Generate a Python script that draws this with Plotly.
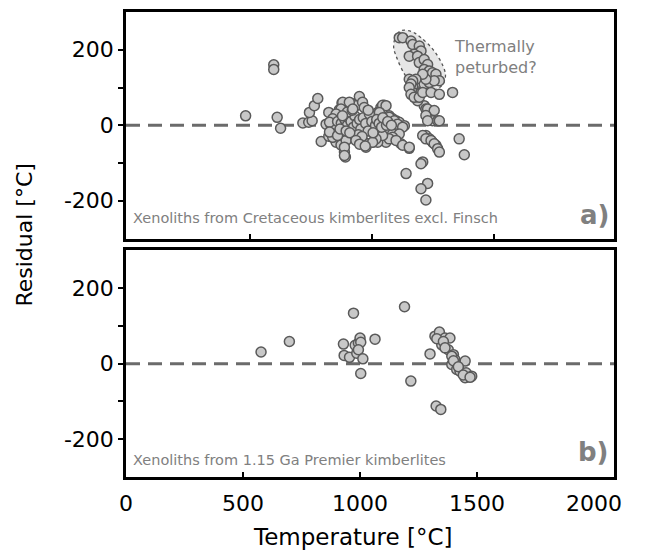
import plotly.graph_objects as go

# ---------------- data ----------------
# Panel a: xenoliths from Cretaceous kimberlites excl. Finsch
a_temp = [484, 599, 599, 613, 627,
          718, 742, 756, 745, 765, 779, 793, 824, 824, 813, 833, 847, 867, 878, 854, 874, 888, 892,
          949, 881, 874, 854, 840, 827, 915, 935, 962, 969, 1051, 1037, 1024, 1003, 1071, 1085, 1099,
          1112, 1133, 1010, 1031, 1051, 1071, 1085, 1092, 1119, 1153, 1058, 1024, 1003, 976, 969,
          908, 895, 888, 888, 840, 827, 860, 1208, 1214, 1221, 1235, 1248, 1269, 1221, 1235, 1248, 1262,
          1153, 1167, 1167, 1180, 1187, 1201, 1214, 1235,
          1112, 1126, 1160, 1167, 1194, 1201, 1173, 1153, 1187, 1194, 1214, 1228, 1214, 1235, 1248, 1262,
          1276, 1255, 1221, 1208, 1180, 1167, 1160, 1153, 1160, 1173, 1194, 1208, 1242, 1276, 1330,
          1228, 1255, 1221, 1228, 1276, 1208, 1221, 1242, 1255, 1269, 1276, 1357, 1378, 1201, 1140,
          1228, 1201, 1221, 1044, 1058, 1031, 1071, 1092, 1105, 1126, 1112, 1085, 1071, 1099, 1126,
          1153, 1044, 1017, 1003,
          860, 875, 890, 900, 905, 915, 925, 930, 940, 950, 955, 965, 975, 985, 990, 1000, 1015, 1020,
          1030, 1040, 1045, 1060, 1065, 1080, 900, 920, 945, 960, 985, 1005, 870, 880, 895, 910, 935,
          950, 973, 908, 922]
a_resid = [25, 160, 148, 21, -8,
           6, 8, 12, 34, 52, 71, -43, -29, 34, 3, 1, 3, 41, 59, -45, -52, -71, -84,
           76, 61, 43, 30, 17, 8, 58, 52, 61, 47, 53, 47, 34, 26, 25, 17, 12,
           8, -1, -5, -14, -10, -14, -23, -36, -49, -61, -45, -45, -45, -58, -45,
           -32, -40, -58, -80, -32, -18, -27, -97, 52, 43, 17, 12, 12, -27, -36, -45, -53,
           122, 104, 87, 74, 65, 87, 109, 113,
           232, 232, 223, 214, 210, 197, 188, 183, 183, 166, 174, 161, 148, 144, 139, 135,
           118, 118, 122, 135, 122, 118, 109, 100, 82, 74, 74, 87, 87, 82, 87,
           43, 39, 26, 12, 12, -27, -36, -40, -49, -62, -71, -36, -78, -102, -128,
           -154, -168, -198, 53, 52, 34, 21, 12, 3, -5, -23, -32, -36, -40, -53,
           -58, -27, -36, -45,
           10, 5, 15, 0, 20, 10, -5, 25, 5, 15, -10, 20, 5, -15, 30, 10, 0, 15,
           5, -5, 20, 0, 10, 0, 35, 40, -25, -30, 40, -20, -10, 25, -15, -20, -40,
           -50, -55, 61, 43]

# Panel b: xenoliths from 1.15 Ga Premier kimberlites
b_temp = [577, 698, 972, 929, 932, 955, 979, 993, 1000, 1003, 986, 993, 1012, 1064, 1003,
          1190, 1299, 1217, 1325, 1345,
          1320, 1339, 1363, 1384, 1349, 1377, 1399, 1405, 1392, 1413, 1427, 1449, 1453, 1477, 1449,
          1328, 1356, 1363, 1392, 1399, 1420, 1441, 1470]
b_resid = [31, 59, 134, 52, 22, 17, 49, 55, 68, 57, 28, 37, 13, 65, -26,
           151, 26, -46, -112, -121,
           73, 84, 68, 68, 50, 37, 24, 11, -2, -15, -20, -37, -24, -33, 7,
           66, 59, 42, 20, 8, -8, -30, -36]

# outline of the "thermally perturbed" group (panel a, data units)
outline_t = [1084, 1104, 1124, 1161, 1194, 1255, 1296, 1304, 1284, 1247, 1206, 1161, 1133, 1104]
outline_r = [211, 245, 253, 250, 237, 200, 153, 126, 100, 92, 95, 113, 134, 174]

y_ticks = [-200, 0, 200]
y_labels = ["-200", "0", "200"]
y_minor = [-100, 100]
x_ticks = [0, 500, 1000, 1500, 2000]
x_minor = [500, 1000, 1500]

FONT = "DejaVu Sans"
GRAY = "#808080"

marker = dict(size=10, color="#c8c8c8", line=dict(color="#595959", width=1.5))

fig = go.Figure()
fig.add_trace(go.Scatter(x=a_temp, y=a_resid, mode="markers", marker=marker,
                         xaxis="x", yaxis="y", showlegend=False))
fig.add_trace(go.Scatter(x=b_temp, y=b_resid, mode="markers", marker=marker,
                         xaxis="x2", yaxis="y2", showlegend=False))

# smooth closed path for the outline
pts = list(zip(outline_t, outline_r))
n = len(pts)
mid = lambda p, q: ((p[0] + q[0]) / 2, (p[1] + q[1]) / 2)
m0 = mid(pts[0], pts[1])
path = f"M {m0[0]},{m0[1]}"
for i in range(1, n + 1):
    c = pts[i % n]
    e = mid(pts[i % n], pts[(i + 1) % n])
    path += f" Q {c[0]},{c[1]} {e[0]},{e[1]}"
path += " Z"

shapes = [
    dict(type="path", path=path, xref="x", yref="y", layer="below",
         fillcolor="#e6e6e6", line=dict(color="#555555", width=1.3, dash="dot")),
    dict(type="line", xref="x domain", yref="y", x0=0, x1=1, y0=0, y1=0, layer="below",
         line=dict(color="#6b6b6b", width=3, dash="14px,8px")),
    dict(type="line", xref="x2 domain", yref="y2", x0=0, x1=1, y0=0, y1=0, layer="below",
         line=dict(color="#6b6b6b", width=3, dash="14px,8px")),
]

axis_common = dict(showline=True, mirror=True, linecolor="black", linewidth=2.5,
                   showgrid=False, zeroline=False)

yax = dict(axis_common, range=[-300, 300], tickmode="array", tickvals=y_ticks,
           ticktext=y_labels,
           ticks="outside", ticklen=5, tickwidth=2, tickcolor="black",
           tickfont=dict(family=FONT, size=22, color="black"),
           minor=dict(tickmode="array", tickvals=y_minor, ticks="outside",
                      ticklen=5, tickwidth=2, tickcolor="black", showgrid=False))

layout = dict(
    width=647, height=557,
    margin=dict(l=126, r=33, t=9, b=80),
    plot_bgcolor="white", paper_bgcolor="white",
    font=dict(family=FONT, color="black"),
    xaxis=dict(axis_common, domain=[0, 1], anchor="y", range=[-5, 1990],
               tickmode="array", tickvals=x_ticks, showticklabels=False, ticks="",
               minor=dict(tickmode="array", tickvals=x_minor, ticks="inside",
                          ticklen=5, tickwidth=2, tickcolor="black", showgrid=False)),
    yaxis=dict(yax, domain=[0.5128, 1], anchor="x"),
    xaxis2=dict(axis_common, domain=[0, 1], anchor="y2", range=[0, 2085],
                tickmode="array", tickvals=x_ticks, ticks="",
                tickfont=dict(family=FONT, size=22, color="black"),
                ticklabelstandoff=5,
                minor=dict(tickmode="array", tickvals=x_minor, ticks="inside",
                           ticklen=5, tickwidth=2, tickcolor="black", showgrid=False)),
    yaxis2=dict(yax, domain=[0, 0.4872], anchor="x2"),
    shapes=shapes,
    annotations=[
        dict(text="Residual [°C]", xref="paper", yref="paper", x=-0.207, y=0.5214,
             textangle=-90, showarrow=False, xanchor="center", yanchor="middle",
             font=dict(family=FONT, size=22, color="black")),
        dict(text="Temperature [°C]", xref="paper", yref="paper", x=0.465, y=-0.128,
             showarrow=False, xanchor="center", yanchor="middle",
             font=dict(family=FONT, size=23, color="black")),
        dict(text="Xenoliths from Cretaceous kimberlites excl. Finsch", xref="x domain",
             yref="y domain", x=0.01, y=0.09, xanchor="left", yanchor="middle",
             showarrow=False, font=dict(family=FONT, size=14.5, color=GRAY)),
        dict(text="Xenoliths from 1.15 Ga Premier kimberlites", xref="x2 domain",
             yref="y2 domain", x=0.01, y=0.075, xanchor="left", yanchor="middle",
             showarrow=False, font=dict(family=FONT, size=14.5, color=GRAY)),
        dict(text="<b>a)</b>", xref="x domain", yref="y domain", x=0.994, y=0.105,
             xanchor="right", yanchor="middle", showarrow=False,
             font=dict(family=FONT, size=26, color=GRAY)),
        dict(text="<b>b)</b>", xref="x2 domain", yref="y2 domain", x=0.994, y=0.11,
             xanchor="right", yanchor="middle", showarrow=False,
             font=dict(family=FONT, size=26, color=GRAY)),
        dict(text="Thermally<br>peturbed?", xref="x domain", yref="y domain", x=0.668,
             y=0.80, xanchor="left", yanchor="middle", align="left", showarrow=False,
             font=dict(family=FONT, size=16, color=GRAY)),
    ],
)

fig.update_layout(layout)
fig.write_html("out.html")
